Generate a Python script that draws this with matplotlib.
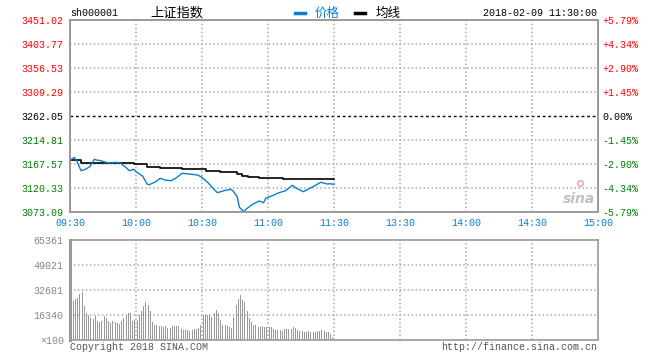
import matplotlib
matplotlib.use("Agg")
import matplotlib.pyplot as plt
from matplotlib.lines import Line2D

# intraday data, minutes after 09:30 (lunch break removed)
price_minutes = [0, 2, 3, 5, 7, 9, 11, 12, 14, 17, 19, 21, 23, 25, 27, 29, 30, 33, 35,
                 36, 39, 41, 43, 46, 48, 51, 54, 58, 60, 63, 65, 67, 70, 73, 74, 76, 77,
                 79, 80, 83, 86, 88, 89, 92, 95, 98, 101, 103, 106, 109, 111, 114, 117,
                 118, 120]
price_values = [3175.4, 3180.8, 3174.1, 3154.4, 3157.2, 3162.3, 3176.8, 3175.4, 3174.1,
                3170.1, 3170.1, 3170.9, 3169.0, 3162.3, 3154.4, 3157.2, 3152.4, 3144.0,
                3128.2, 3126.8, 3132.7, 3139.4, 3136.1, 3134.7, 3139.4, 3149.3, 3147.9,
                3145.9, 3141.4, 3129.6, 3119.7, 3111.1, 3115.0, 3117.8, 3115.0, 3103.2,
                3082.3, 3073.7, 3078.4, 3088.3, 3094.7, 3091.4, 3100.1, 3105.2, 3111.1,
                3115.0, 3125.7, 3119.7, 3113.1, 3119.7, 3124.3, 3131.6, 3128.2, 3128.8,
                3127.6]

avg_minutes = [0, 2, 5, 29, 35, 41, 51, 62, 68, 76, 78, 81, 86, 97, 120]
avg_values = [3175.4, 3174.5, 3169.0, 3167.0, 3161.1, 3159.1, 3157.2, 3154.4, 3151.2,
              3147.5, 3144.0, 3141.4, 3139.4, 3138.0, 3138.0]

volumes = [29400, 25700, 26600, 27200, 30100, 31400, 22200, 17900, 16100, 14600,
           13900, 15700, 12600, 11800, 12600, 15700, 14200, 12400, 10900, 12400,
           11800, 10900, 10500, 12400, 14400, 15700, 17900, 17900, 12400, 13100,
           13100, 16300, 19200, 22400, 25000, 23100, 19000, 12000,
           9800, 9800, 9150, 9150, 8500, 9150, 7800, 7800, 9150, 9150,
           9150, 9150, 7200, 6500, 6500, 6500, 5900, 6500, 7200, 7200,
           7800, 9800, 16300, 16300, 16300, 16300, 15200, 17900, 19600, 17900,
           13100, 9800, 9800, 9150, 8500, 7800, 15200, 23100, 26800, 29400, 26100,
           25000, 19000, 14200, 12000, 9800, 9800, 8500, 8500, 9150, 8500,
           8500, 8500, 8500, 7200, 6500, 6500, 6500, 5900, 7200, 7200,
           7200, 7200, 8500, 7800, 6500, 5900, 5900, 5200, 5200, 5900,
           5200, 5200, 5200, 5900, 5900, 6500, 5900, 5200, 5200, 3900, 2200]

price_levels = [3073.09, 3120.33, 3167.57, 3214.81, 3262.05, 3309.29, 3356.53, 3403.77, 3451.02]
price_labels = ["3073.09", "3120.33", "3167.57", "3214.81", "3262.05",
                "3309.29", "3356.53", "3403.77", "3451.02"]
pct_labels = ["-5.79%", "-4.34%", "-2.90%", "-1.45%", "0.00%",
              "+1.45%", "+2.90%", "+4.34%", "+5.79%"]
time_ticks = [0, 30, 60, 90, 120, 150, 180, 210, 240]
time_labels = ["09:30", "10:00", "10:30", "11:00", "11:30", "13:30", "14:00", "14:30", "15:00"]
vol_levels = [0, 16340, 32681, 49021, 65361]
vol_labels = ["\u00d7100", "16340", "32681", "49021", "65361"]

MONO = ["Liberation Mono", "DejaVu Sans Mono"]
CJK = ["Noto Sans CJK SC", "DejaVu Sans"]
BLUE = "#0a7fcf"
RED = "#ff0000"
GREEN = "#008000"
FRAME = "#999999"
GRID = "#a8a8a8"
DOT = (0, (1, 1.6))

plt.rcParams["font.family"] = MONO

fig = plt.figure(figsize=(6.6, 3.6), dpi=100)
W, H = 660.0, 360.0
ax = fig.add_axes([70 / W, 1 - 212 / H, 528 / W, 192 / H])
axv = fig.add_axes([70 / W, 1 - 340 / H, 528 / W, 100 / H])

# price panel
ax.set_xlim(0, 240)
ax.set_ylim(price_levels[0], price_levels[-1])
ax.plot(avg_minutes, avg_values, color="black", lw=1.2, drawstyle="steps-post", zorder=3)
ax.plot(price_minutes, price_values, color=BLUE, lw=1.0, zorder=4)

for lv in price_levels[1:-1]:
    if lv == 3262.05:
        ax.axhline(lv, color="black", lw=1.0, ls=(0, (2, 2)), zorder=1)
    else:
        ax.axhline(lv, color=GRID, lw=1.1, ls=DOT, zorder=1)
for t in time_ticks[1:-1]:
    ax.axvline(t, color=GRID, lw=1.1, ls=DOT, zorder=1)

ax.set_yticks(price_levels)
ax.set_yticklabels(price_labels, fontsize=7.2)
ax.set_xticks(time_ticks)
ax.set_xticklabels(time_labels, fontsize=7.2, color=BLUE)
ax.tick_params(axis="y", length=0, pad=4.5)
ax.tick_params(axis="x", length=0, pad=4.5)
for lab, lv in zip(ax.get_yticklabels(), price_levels):
    lab.set_color(RED if lv > 3262.05 else (GREEN if lv < 3262.05 else "black"))

axr = ax.twinx()
axr.set_ylim(price_levels[0], price_levels[-1])
axr.set_yticks(price_levels)
axr.set_yticklabels(pct_labels, fontsize=7.2)
axr.tick_params(axis="y", length=0, pad=3.5)
for lab, lv in zip(axr.get_yticklabels(), price_levels):
    lab.set_color(RED if lv > 3262.05 else (GREEN if lv < 3262.05 else "black"))

for a in (ax, axr):
    for s in a.spines.values():
        s.set_color(FRAME)
        s.set_linewidth(1.2)

# sina watermark
ax.text(0.995, 0.03, "sina", transform=ax.transAxes, ha="right", va="bottom",
        fontsize=10, color="#c0c0c0", style="italic", fontweight="bold",
        family=["DejaVu Sans"])
ax.plot([0.965], [0.15], marker="o", ms=4, mfc="none", mec="#f0a0a0",
        transform=ax.transAxes, clip_on=False)

# volume panel
bar_x = [i + 0.5 for i in range(len(volumes))]
axv.bar(bar_x, volumes, width=0.5, color="#999999", zorder=3)
axv.set_xlim(0, 240)
axv.set_ylim(0, vol_levels[-1])
for lv in vol_levels[1:-1]:
    axv.axhline(lv, color=GRID, lw=1.1, ls=DOT, zorder=1)
for t in time_ticks[1:-1]:
    axv.axvline(t, color=GRID, lw=1.1, ls=DOT, zorder=1)
axv.set_xticks([])
axv.set_yticks(vol_levels)
axv.set_yticklabels(vol_labels, fontsize=7.2, color="#888888")
axv.tick_params(axis="y", length=0, pad=4.5)
for s in axv.spines.values():
    s.set_color(FRAME)
    s.set_linewidth(1.2)
axv.spines["left"].set_linewidth(2.2)

# header
fig.text(70 / W, 1 - 13 / H, "sh000001", fontsize=7.2, va="center", ha="left")
fig.text(177 / W, 1 - 13 / H, "上证指数", fontsize=9.5, va="center", ha="center", family=CJK)
fig.add_artist(Line2D([295 / W, 305 / W], [1 - 13 / H, 1 - 13 / H], color=BLUE, lw=2.5,
                      transform=fig.transFigure))
fig.text(315 / W, 1 - 13 / H, "价格", fontsize=9, va="center", ha="left", color=BLUE, family=CJK)
fig.add_artist(Line2D([355 / W, 365 / W], [1 - 13 / H, 1 - 13 / H], color="black", lw=2.5,
                      transform=fig.transFigure))
fig.text(376 / W, 1 - 13 / H, "均线", fontsize=9, va="center", ha="left", family=CJK)
fig.text(597 / W, 1 - 13 / H, "2018-02-09 11:30:00", fontsize=7.2, va="center", ha="right")

# footer
fig.text(70 / W, 1 - 347 / H, "Copyright 2018 SINA.COM", fontsize=7.2, va="center",
         ha="left", color="#555555")
fig.text(597 / W, 1 - 347 / H, "http://finance.sina.com.cn", fontsize=7.2, va="center",
         ha="right", color="#555555")

fig.savefig("out.png", dpi=100, facecolor="white")
